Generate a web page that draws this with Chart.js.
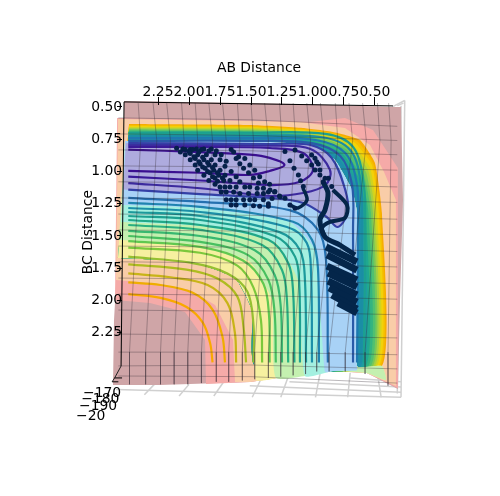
<!DOCTYPE html>
<html>
<head>
<meta charset="utf-8">
<style>
html, body { margin: 0; padding: 0; background: #fff; }
canvas { display: block; }
</style>
<script src="https://cdn.jsdelivr.net/npm/chart.js@4"></script>
</head>
<body>
<canvas id="surfaceChart" width="500" height="496"></canvas>
<script>
var abTicks = [2.25, 2.00, 1.75, 1.50, 1.25, 1.00, 0.75, 0.50];
var bcTicks = [0.50, 0.75, 1.00, 1.25, 1.50, 1.75, 2.00, 2.25];
var zTickLabels = ["\u2212170", "\u2212180", "\u2212190", "\u221220"];
var zTickAb = [2.855, 2.87, 2.887, 2.911];
var zTickBc = [2.72, 2.77, 2.82, 2.895];

// contours, outer plateau side (AB, BC)
var lowerLines = [
  [[2.49,1.95],[2.23,1.98],[2.02,2.05],[1.89,2.17],[1.83,2.33],[1.81,2.48]],
  [[2.49,1.86],[2.23,1.88],[1.97,1.94],[1.81,2.07],[1.73,2.28],[1.71,2.48]],
  [[2.49,1.79],[2.15,1.82],[1.85,1.88],[1.69,2.02],[1.63,2.25],[1.62,2.48]],
  [[2.49,1.72],[2.02,1.76],[1.77,1.83],[1.61,1.97],[1.56,2.21],[1.54,2.48]],
  [[2.49,1.66],[1.97,1.71],[1.69,1.79],[1.53,1.93],[1.48,2.19],[1.48,2.48]],
  [[2.49,1.59],[1.91,1.63],[1.61,1.73],[1.48,1.90],[1.42,2.15],[1.41,2.48]],
  [[2.49,1.54],[1.91,1.585],[1.565,1.69],[1.40,1.87],[1.355,2.11],[1.35,2.48]],
  [[2.49,1.50],[1.91,1.546],[1.52,1.65],[1.36,1.84],[1.31,2.09],[1.30,2.48]],
  [[2.49,1.46],[1.91,1.50],[1.47,1.61],[1.31,1.80],[1.26,2.05],[1.25,2.48]],
  [[2.49,1.415],[1.91,1.453],[1.41,1.57],[1.25,1.764],[1.21,2.0],[1.20,2.48]],
  [[2.49,1.376],[1.91,1.415],[1.36,1.53],[1.20,1.71],[1.16,1.94],[1.15,2.48]],
  [[2.49,1.345],[1.91,1.376],[1.31,1.50],[1.145,1.66],[1.11,1.895],[1.105,2.48]],
  [[2.49,1.314],[1.91,1.345],[1.27,1.47],[1.105,1.61],[1.065,1.84],[1.056,2.48]],
  [[2.49,1.283],[1.91,1.314],[1.21,1.43],[1.05,1.554],[1.016,1.787],[1.008,2.48]],
  [[2.49,1.244],[1.91,1.275],[1.16,1.39],[1.008,1.53],[.96,1.75],[.952,2.48]],
  [[2.49,1.205],[1.91,1.236],[1.19,1.30],[.96,1.453],[.895,1.686],[.88,2.48]]
];
var lowerColors = ["#f9a900","#efae00","#c8b418","#aebc20","#96c030","#7cc83c","#60c850","#48c060",
  "#38b870","#28b080","#20a888","#1da090","#1c9a9c","#1c90a8","#1f84b0","#2470b0"];

// contours that wrap the wall on top and right
var wallLines = [
  [[2.49,.763],[1.51,.763],[1.02,.779],[.78,.88],[.685,1.105],[.677,1.453],[.677,2.48]],
  [[2.49,.74],[1.51,.74],[.98,.756],[.74,.857],[.645,1.105],[.637,1.453],[.645,2.48]],
  [[2.49,.725],[1.51,.725],[.94,.733],[.70,.833],[.613,1.105],[.605,1.453],[.613,2.48]],
  [[2.49,.70],[1.51,.70],[.90,.709],[.677,.81],[.59,1.105],[.58,1.453],[.59,2.48]]
];
var wallLineColors = ["#2a5aa8","#1e78b0","#1a8ea4","#1ca08f"];

// valley lobes
var lobeLines = [
  [[2.49,.83],[1.91,.85],[1.51,.87],[1.35,.895],[1.23,.95],[1.35,.996],[1.51,1.027],[1.91,1.01],[2.49,.996]],
  [[2.49,.81],[1.91,.81],[1.35,.818],[1.08,.857],[1.0,.988],[1.105,1.08],[1.35,1.105],[1.91,1.07],[2.49,1.04]],
  [[2.49,.795],[1.91,.795],[1.35,.80],[1.02,.826],[.863,.988],[.90,1.105],[1.08,1.167],[1.35,1.19],[1.91,1.13],[2.49,1.09]],
  [[2.49,.78],[1.35,.787],[1.02,.795],[.85,.895],[.74,1.143],[.72,1.314],[.80,1.43],[.89,1.353],[1.08,1.244],[1.35,1.205],[1.91,1.175],[2.49,1.14]]
];
var lobeColors = ["#3a0f90","#3a1a98","#3c2a9e","#3440a6"];

// surface colour regions
var rosePane = [[2.524,.453],[1.105,.477],[.355,.50],[.29,.50],[.274,1.221],[.298,1.996],[.315,2.686],[.565,2.562],[.839,2.546],[1.242,2.593],[1.508,2.632],[2.234,2.655],[2.613,2.655],[2.605,2.151],[2.573,1.608],[2.54,1.221],[2.508,.756],[2.524,.60]];
var pinkRegion = [[2.58,.585],[1.024,.616],[.742,.585],[.516,.678],[.315,.973],[.315,2.68],[.565,2.562],[.839,2.546],[1.242,2.593],[1.508,2.632],[1.863,2.647],[1.871,2.306],[2.032,2.089],[2.315,2.019],[2.597,1.996]];
var peachRegion = [[2.573,.593],[1.105,.616],[.742,.663],[.54,.795],[.427,1.004],[.331,1.221],[.331,2.663],[.565,2.562],[.839,2.546],[1.242,2.593],[1.508,2.632],[1.629,2.632],[1.645,2.306],[1.79,2.035],[1.992,1.919],[2.315,1.864],[2.589,1.841]];

var wallEdges = [
  [[2.484,.632],[1.508,.64],[1.081,.663],[.839,.694],[.621,.756],[.50,.934],[.444,1.322],[.444,2.507]],
  [[2.484,.64],[1.508,.647],[1.081,.67],[.851,.70],[.641,.767],[.512,.942],[.456,1.322],[.456,2.507]],
  [[2.484,.647],[1.508,.655],[1.081,.678],[.863,.709],[.661,.779],[.524,.95],[.468,1.322],[.468,2.507]],
  [[2.484,.655],[1.508,.662],[1.081,.686],[.883,.721],[.681,.794],[.54,.969],[.484,1.322],[.484,2.507]],
  [[2.484,.663],[1.508,.67],[1.081,.694],[.903,.733],[.702,.81],[.556,.988],[.50,1.322],[.50,2.507]],
  [[2.484,.67],[1.508,.678],[1.093,.70],[.915,.745],[.714,.821],[.572,1.007],[.516,1.322],[.516,2.507]],
  [[2.484,.678],[1.508,.686],[1.105,.709],[.927,.756],[.726,.833],[.589,1.027],[.532,1.322],[.532,2.507]],
  [[2.484,.689],[1.508,.693],[1.105,.721],[.935,.767],[.746,.845],[.605,1.046],[.552,1.322],[.552,2.507]],
  [[2.484,.70],[1.508,.70],[1.105,.733],[.944,.779],[.766,.857],[.621,1.066],[.573,1.322],[.573,2.507]],
  [[2.484,.716],[1.508,.72],[1.105,.745],[.952,.79],[.782,.872],[.641,1.085],[.593,1.322],[.593,2.507]],
  [[2.484,.733],[1.508,.74],[1.105,.756],[.96,.802],[.798,.888],[.661,1.105],[.613,1.322],[.613,2.507]]
];
var wallColors = ["#f7ad00","#f5c000","#f2d20a","#d0d420","#a8d040","#78c858","#50c070","#34b480","#20a890","#1f9ca0","#1e8eaa"];
var wallInnerClose = [[1.47,2.50],[1.492,2.074],[1.629,1.826],[1.992,1.70],[2.573,1.671]];
var innerEdge = [[2.516,.763],[1.508,.763],[1.105,.787],[.96,.833],[.823,.911],[.685,1.143],[.645,1.322],[.645,2.507]];
var rightFoot = [[.444,2.507],[.411,2.616],[.565,2.562],[.839,2.546]];
var blueFoot = [[.645,2.54],[.839,2.546]];

var yellowEdge = [[1.242,2.593],[1.46,2.616],[1.492,2.074],[1.629,1.826],[1.992,1.70],[2.573,1.671]];
var greenEdge = [[1.298,2.60],[1.331,1.996],[1.508,1.70],[1.911,1.57],[2.565,1.531]];
var aquaEdge = [[1.065,2.585],[1.121,1.841],[1.306,1.546],[1.911,1.422],[2.548,1.391]];
var blueEdge = [[.903,2.554],[.984,1.608],[1.186,1.391],[1.911,1.283],[2.54,1.26]];
var lavenderLobe = [[2.51,.78],[1.35,.787],[1.02,.795],[.85,.895],[.74,1.143],[.72,1.314],[.80,1.43],[.89,1.353],[1.08,1.244],[1.35,1.205],[1.91,1.175],[2.53,1.14]];

// wireframe
var meshAbTop = [2.41,2.29,2.18,2.06,1.95,1.84,1.73,1.61,1.50,1.39,1.27,1.16,1.05,.94,.82,.71,.60,.48,.39];
var meshAbMid = [2.39,2.26,2.15,2.04,1.93,1.81,1.70,1.59,1.48,1.36,1.25,1.14,1.02,.91,.80,.68,.57,.46,.37];
var meshAbLow = [2.48,2.35,2.23,2.12,2.01,1.90,1.78,1.68,1.57,1.47,1.36,1.26,1.16,1.06,.97,.87,.74,.58,.395];
var meshBcLow = [2.65,2.65,2.65,2.65,2.65,2.64,2.63,2.63,2.62,2.61,2.60,2.59,2.58,2.57,2.55,2.55,2.55,2.57,2.66];
var meshBcLeft = [.585,.709,.833,.957,1.08,1.205,1.33,1.453,1.578,1.70,1.826,1.95,2.074,2.26,2.40,2.507,2.585];
var meshBcMid = [.60,.72,.84,.965,1.09,1.215,1.34,1.463,1.588,1.71,1.836,1.96,2.084,2.27,2.40,2.50,2.59];
var meshBcRight = [.65,.76,.87,.99,1.12,1.24,1.37,1.49,1.62,1.74,1.87,1.99,2.11,2.29,2.42,2.53,2.64];
var meshRowAb = [2.57, 1.50, .32];

// grey pane behind the surface
var paneLines = [
  [[2.59,2.69],[.29,2.75]],
  [[1.51,2.66],[.29,2.71]],
  [[1.19,2.63],[.29,2.67]],
  [[.70,2.60],[.29,2.63]],
  [[.26,.45],[.29,2.75]],
  [[.29,.49],[.32,2.72]],
  [[.36,.50],[.26,.45]],
  [[.32,.49],[.27,.47]],
  [[2.36,2.73],[2.28,2.65]],
  [[2.08,2.74],[2.0,2.65]],
  [[1.80,2.74],[1.72,2.63]],
  [[1.49,2.75],[1.42,2.61]],
  [[1.26,2.75],[1.20,2.59]],
  [[.98,2.75],[.94,2.55]],
  [[.72,2.75],[.70,2.56]],
  [[.45,2.75],[.48,2.57]]
];

// axis lines drawn along the tilted box
var topAxisLine = [[2.524,.461],[.355,.492]];
var leftAxisLine = [[2.524,.461],[2.548,2.508]];
var zAxisLine = [[2.548,2.508],[2.60,2.60],[2.62,2.63]];
var zTickMarks = [
  [[2.60,2.60],[2.54,2.60]],
  [[2.62,2.63],[2.57,2.63]]
];

// trajectory dots
var dotsLeft = [[2.10,.82],[2.05,.825],[1.99,.83],[1.94,.825],[1.88,.825],[1.82,.825],[1.78,.84],[1.74,.87],[1.70,.92],
  [1.66,.83],[1.64,.85],[1.60,.885],[1.62,.90],[1.55,.90],[1.59,.94],[1.51,.95],[1.56,.975],[1.47,.99],[1.52,1.01],
  [1.43,1.04],[1.48,1.05],[1.39,1.08],[1.44,1.09],[1.35,1.10],[1.40,1.13],[1.31,1.16],[1.36,1.16],[1.27,1.19],
  [2.07,.85],[2.03,.87],[1.99,.91],[1.95,.95],[1.93,.99],[1.88,1.03],[1.84,1.07],
  [2.03,.83],[1.99,.86],[1.95,.90],[1.91,.94],[1.87,.975],[1.83,1.01],[1.79,1.05],
  [1.97,.83],[1.93,.87],[1.88,.91],[1.84,.95],[1.80,.99],[1.76,1.03],[1.72,1.07],
  [1.90,.83],[1.86,.87],[1.82,.91],[1.79,.95],[1.75,.99],[1.71,1.03],[1.67,1.07],
  [1.84,.84],[1.79,.87],[1.75,.91],[1.71,.96],[1.66,1.0],[1.62,1.04],[1.59,1.08],
  [2.0,.845],[1.96,.885],[1.92,.925],[1.89,.965],[1.85,1.0],[1.81,1.04],[1.77,1.075],
  [1.92,.85],[1.89,.89],[1.85,.93],[1.81,.97],[1.77,1.01],[1.73,1.05],
  [1.79,1.10],[1.75,1.12],[1.71,1.12],[1.67,1.12],[1.62,1.12],[1.55,1.12],[1.51,1.12],[1.45,1.13],
  [1.74,1.16],[1.70,1.16],[1.64,1.16],[1.59,1.17],[1.52,1.17],[1.45,1.17],[1.40,1.17],[1.33,1.21],
  [1.70,1.22],[1.66,1.22],[1.62,1.22],[1.56,1.22],[1.51,1.22],[1.47,1.22],[1.40,1.22],[1.36,1.25],
  [1.66,1.26],[1.62,1.26],[1.55,1.26],[1.48,1.265],[1.43,1.27],[1.36,1.27]];
var dotsRight = [[1.226,.846],[1.186,.916],[1.153,.975],[1.118,1.027],[1.10,1.071],[1.078,1.117],
  [1.091,.88],[1.051,.916],[1.011,.95],[.984,.988],[.944,1.027],[.917,1.079],
  [1.011,.872],[.984,.898],[.957,.942],[.944,.988],[.903,1.053],[.876,1.053],[.849,1.117],
  [1.145,.833],[.97,.924],
  [1.347,1.143],[1.307,1.156],[1.266,1.195],[1.226,1.208],[1.186,1.259],[1.145,1.285]];

// dense part of the trajectory, dots merged into strokes
var thickPaths = [
  [[.919,1.081],[.879,1.167],[.903,1.298],[.944,1.376],[.903,1.508],[.782,1.57],[.661,1.647]],
  [[.839,1.143],[.726,1.26],[.742,1.36],[.863,1.391],[.927,1.438],[.903,1.508]],
  [[1.081,1.128],[1.048,1.221],[1.121,1.283],[1.185,1.26]]
];
var thickWidths = [5, 4, 3.5];
var denseStrips = [
  [[.895,1.585],[.645,1.70]],
  [[.887,1.647],[.645,1.764]],
  [[.887,1.733],[.645,1.84]],
  [[.879,1.787],[.645,1.895]],
  [[.879,1.849],[.645,1.957]],
  [[.871,1.903],[.645,2.012]],
  [[.847,1.957],[.645,2.066]],
  [[.798,2.019],[.645,2.097]]
];

function toXY(list) {
    return list.map(p => ({ x: p[0], y: p[1] }));
}

function region(list, color, tension) {
    return { data: toXY(list), showLine: true, fill: 'shape', backgroundColor: color,
        borderWidth: 0, pointRadius: 0, tension: tension || 0 };
}

function stroke(list, color, width, tension) {
    return { data: toXY(list), showLine: true, fill: false, borderColor: color,
        borderWidth: width, pointRadius: 0, tension: tension, borderCapStyle: 'butt' };
}

// paint order, back to front
var layers = [];

paneLines.forEach(l => layers.push(stroke(l, '#d0d0d0', 1.5, 0)));
layers.push(region(rosePane, '#cfa5a7'));
layers.push(region(pinkRegion, '#f5aaa8'));
layers.push(region(peachRegion, '#f9cda8'));

wallEdges.forEach((edge, i) => {
    layers.push(region(edge.concat(wallInnerClose), wallColors[i], 0.15));
});
layers.push(region(innerEdge.concat(rightFoot, yellowEdge), '#f6f0a0', 0.15));
layers.push(region(innerEdge.concat(rightFoot, greenEdge), '#c4f0b0', 0.15));
layers.push(region(innerEdge.concat(blueFoot, aquaEdge), '#a4f0e0', 0.15));
layers.push(region(innerEdge.concat(blueFoot, blueEdge), '#a8d2f6', 0.15));
layers.push(region(lavenderLobe, '#aeabde', 0.2));

lowerLines.forEach((l, i) => layers.push(stroke(l, lowerColors[i], 2.2, 0.35)));
wallLines.forEach((l, i) => layers.push(stroke(l, wallLineColors[i], 2.2, 0.35)));
lobeLines.forEach((l, i) => layers.push(stroke(l, lobeColors[i], 2.2, 0.35)));

meshAbTop.forEach((ab, i) => {
    layers.push(stroke([[ab, .47], [meshAbMid[i], .76], [meshAbLow[i], 2.40], [meshAbLow[i], meshBcLow[i]]],
        'rgba(50,40,50,0.33)', 1, 0));
});
meshBcLeft.forEach((bc, i) => {
    layers.push(stroke([[meshRowAb[0], bc], [meshRowAb[1], meshBcMid[i]], [meshRowAb[2], meshBcRight[i]]],
        'rgba(50,40,50,0.33)', 1, 0));
});

denseStrips.forEach(l => layers.push(stroke(l, '#04264a', 7, 0)));
thickPaths.forEach((l, i) => layers.push(stroke(l, '#04264a', thickWidths[i], 0.3)));
layers.push({ data: toXY(dotsLeft.concat(dotsRight)), showLine: false, pointRadius: 2.5,
    pointBackgroundColor: '#06204a', pointBorderWidth: 0 });

layers.push(stroke(topAxisLine, '#000', 1, 0));
layers.push(stroke(leftAxisLine, '#000', 1, 0));
layers.push(stroke(zAxisLine, '#222', 1, 0));
zTickMarks.forEach(l => layers.push(stroke(l, '#000', 1, 0)));

var tickFont = { family: 'DejaVu Sans', size: 13.9 };

var extraText = {
    id: 'extraText',
    afterDraw(chart) {
        var ctx = chart.ctx;
        var x = chart.scales.x, y = chart.scales.y;
        ctx.save();
        ctx.fillStyle = '#000';
        ctx.font = '13.9px "DejaVu Sans"';
        ctx.textBaseline = 'middle';
        ctx.textAlign = 'left';
        zTickLabels.forEach((t, i) => {
            ctx.fillText(t, x.getPixelForValue(zTickAb[i]), y.getPixelForValue(zTickBc[i]));
        });
        ctx.textAlign = 'center';
        ctx.translate(88, y.getPixelForValue(1.47));
        ctx.rotate(-Math.PI / 2);
        ctx.fillText('BC Distance', 0, 0);
        ctx.restore();
    }
};

new Chart(document.getElementById('surfaceChart').getContext('2d'), {
    type: 'scatter',
    data: { datasets: layers.reverse() },
    plugins: [extraText],
    options: {
        responsive: false,
        animation: false,
        events: [],
        layout: { padding: { left: 70, right: 52, bottom: 60, top: 0 } },
        plugins: {
            legend: { display: false },
            tooltip: { enabled: false },
            title: {
                display: true, text: 'AB Distance', color: '#000', fullSize: false,
                font: { family: 'DejaVu Sans', size: 13.9, weight: 'normal' },
                padding: { top: 60, bottom: 11.3 }
            }
        },
        scales: {
            x: {
                type: 'linear', reverse: true, min: -0.089, max: 2.96,
                position: { y: 0.4225 },
                afterBuildTicks: s => { s.ticks = abTicks.map(v => ({ value: v })); },
                border: { display: false },
                grid: { drawOnChartArea: false, color: '#000', tickLength: 8, z: 1 },
                ticks: { autoSkip: false, maxRotation: 0, minRotation: 0, color: '#000', font: tickFont,
                    padding: -21, z: 1, callback: v => v.toFixed(2) }
            },
            y: {
                type: 'linear', reverse: true, min: 0.353, max: 3.05,
                position: { x: 2.54 },
                afterBuildTicks: s => { s.ticks = bcTicks.map(v => ({ value: v })); },
                border: { display: false },
                grid: { drawOnChartArea: false, color: '#000', tickLength: 5, z: 1 },
                ticks: { autoSkip: false, color: '#000', font: tickFont, padding: 0, z: 1,
                    callback: v => v.toFixed(2) }
            }
        }
    }
});
</script>
</body>
</html>
